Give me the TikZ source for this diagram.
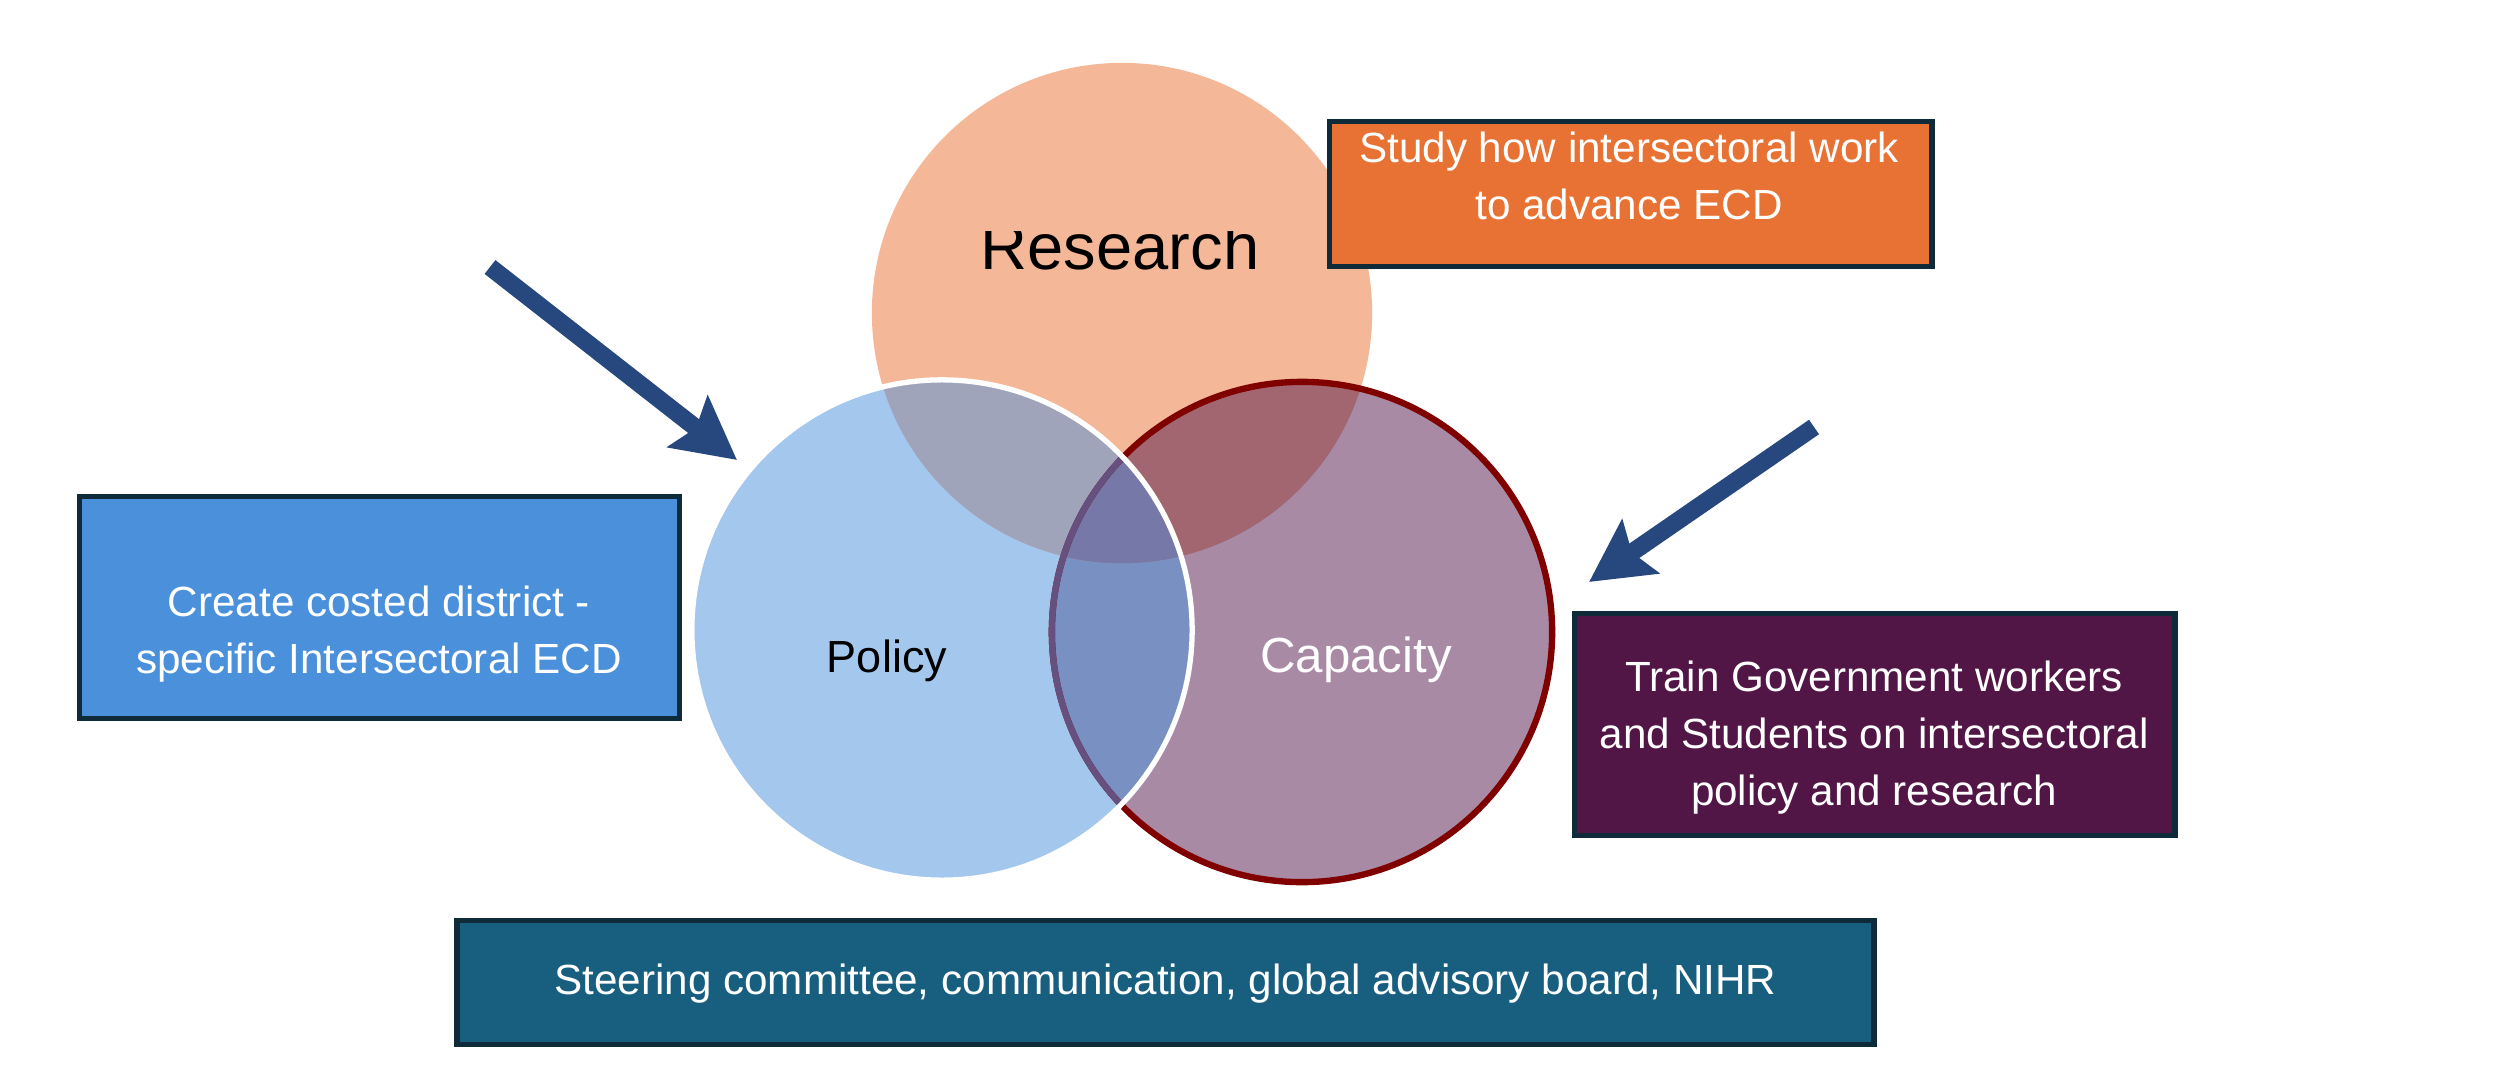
\documentclass[tikz,border=0pt]{standalone}
\usepackage{fontspec}
\setmainfont{Liberation Sans}
\usetikzlibrary{arrows.meta}

\definecolor{researchorange}{HTML}{F4B899}
\definecolor{policyblue}{HTML}{A4C7ED}
\definecolor{capacitymauve}{HTML}{A98AA5}
\definecolor{respol}{HTML}{9FA4BA}
\definecolor{rescap}{HTML}{A1666F}
\definecolor{polcap}{HTML}{7890C2}
\definecolor{allthree}{HTML}{7679A7}
\definecolor{caprim}{HTML}{800000}
\definecolor{caprimdim}{HTML}{66507F}
\definecolor{arrowblue}{HTML}{27477F}
\definecolor{boxline}{HTML}{0F2A38}
\definecolor{studyfill}{HTML}{E87234}
\definecolor{createfill}{HTML}{4A90DB}
\definecolor{trainfill}{HTML}{521646}
\definecolor{steerfill}{HTML}{175E7F}

\tikzset{
	bigarrow/.style={arrowblue, line width=5pt, -{Stealth[length=0.62cm,width=0.64cm,inset=0.1cm]}},
	infobox/.style={rectangle, draw=boxline, line width=1.6pt, inner sep=0pt},
	infotext/.style={text=white, align=center, inner sep=0pt, font=\fontsize{12}{16.2}\selectfont},
	circlelabel/.style={inner sep=0pt, anchor=base}
}

\begin{document}
\begin{tikzpicture}[x=0.01cm, y=-0.01cm]
	\useasboundingbox (0,0) rectangle (2500,1085);
	\def\rad{2.5cm}
	\coordinate (rc) at (1122,313);
	\coordinate (pc) at (942,630);
	\coordinate (cc) at (1302,632);

	% the three circles and their overlaps
	\fill[researchorange] (rc) circle (\rad);
	\fill[policyblue] (pc) circle (\rad);
	\fill[capacitymauve] (cc) circle (\rad);
	\begin{scope}
		\clip (pc) circle (\rad);
		\fill[polcap] (cc) circle (\rad);
	\end{scope}
	\begin{scope}
		\clip (rc) circle (\rad);
		\fill[respol] (pc) circle (\rad);
		\fill[rescap] (cc) circle (\rad);
		\clip (pc) circle (\rad);
		\fill[allthree] (cc) circle (\rad);
	\end{scope}
	\draw[caprim, line width=1.8pt] (cc) circle (\rad);
	\begin{scope}
		\clip (pc) circle (\rad);
		\draw[caprimdim, line width=1.8pt] (cc) circle (\rad);
	\end{scope}
	\draw[white, line width=1.5pt] (pc) circle (\rad);

	\begin{scope}
		\clip (900,232) rectangle (1350,330);
		\node[circlelabel, font=\fontsize{18.5}{22}\selectfont] (research) at (1120,270) {Research};
	\end{scope}
	\node[circlelabel, font=\fontsize{12.8}{15}\selectfont] (policy) at (887,672) {Policy};
	\node[circlelabel, text=white, font=\fontsize{14}{17}\selectfont] (capacity) at (1356,672) {Capacity};

	% arrows
	\coordinate (pin) at (490,267);
	\coordinate (ptip) at (737,460);
	\coordinate (cin) at (1814,427);
	\coordinate (ctip) at (1589,582);
	\draw[bigarrow] (pin) -- (ptip);
	\draw[bigarrow] (cin) -- (ctip);

	% boxes
	\node[infobox, fill=studyfill, minimum width=6.02cm, minimum height=1.45cm] (study) at (1630.5,194) {};
	\node[infotext] (studytext) at (1629,176) {Study how intersectoral work\\to advance ECD};
	\node[infobox, fill=createfill, minimum width=6.0cm, minimum height=2.22cm] (create) at (379.5,607.5) {};
	\node[infotext] (createtext) at (379,634) {Create costed district -\\specific Intersectoral ECD};
	\node[infobox, fill=trainfill, minimum width=6.0cm, minimum height=2.22cm] (train) at (1874.5,724.5) {};
	\node[infotext] (traintext) at (1874,738) {Train Government workers\\and Students on intersectoral\\policy and research};
	\node[infobox, fill=steerfill, minimum width=14.16cm, minimum height=1.24cm] (steer) at (1165.5,982.5) {};
	\node[infotext] (steertext) at (1165.5,984) {Steering committee, communication, global advisory board, NIHR};
\end{tikzpicture}
\end{document}
